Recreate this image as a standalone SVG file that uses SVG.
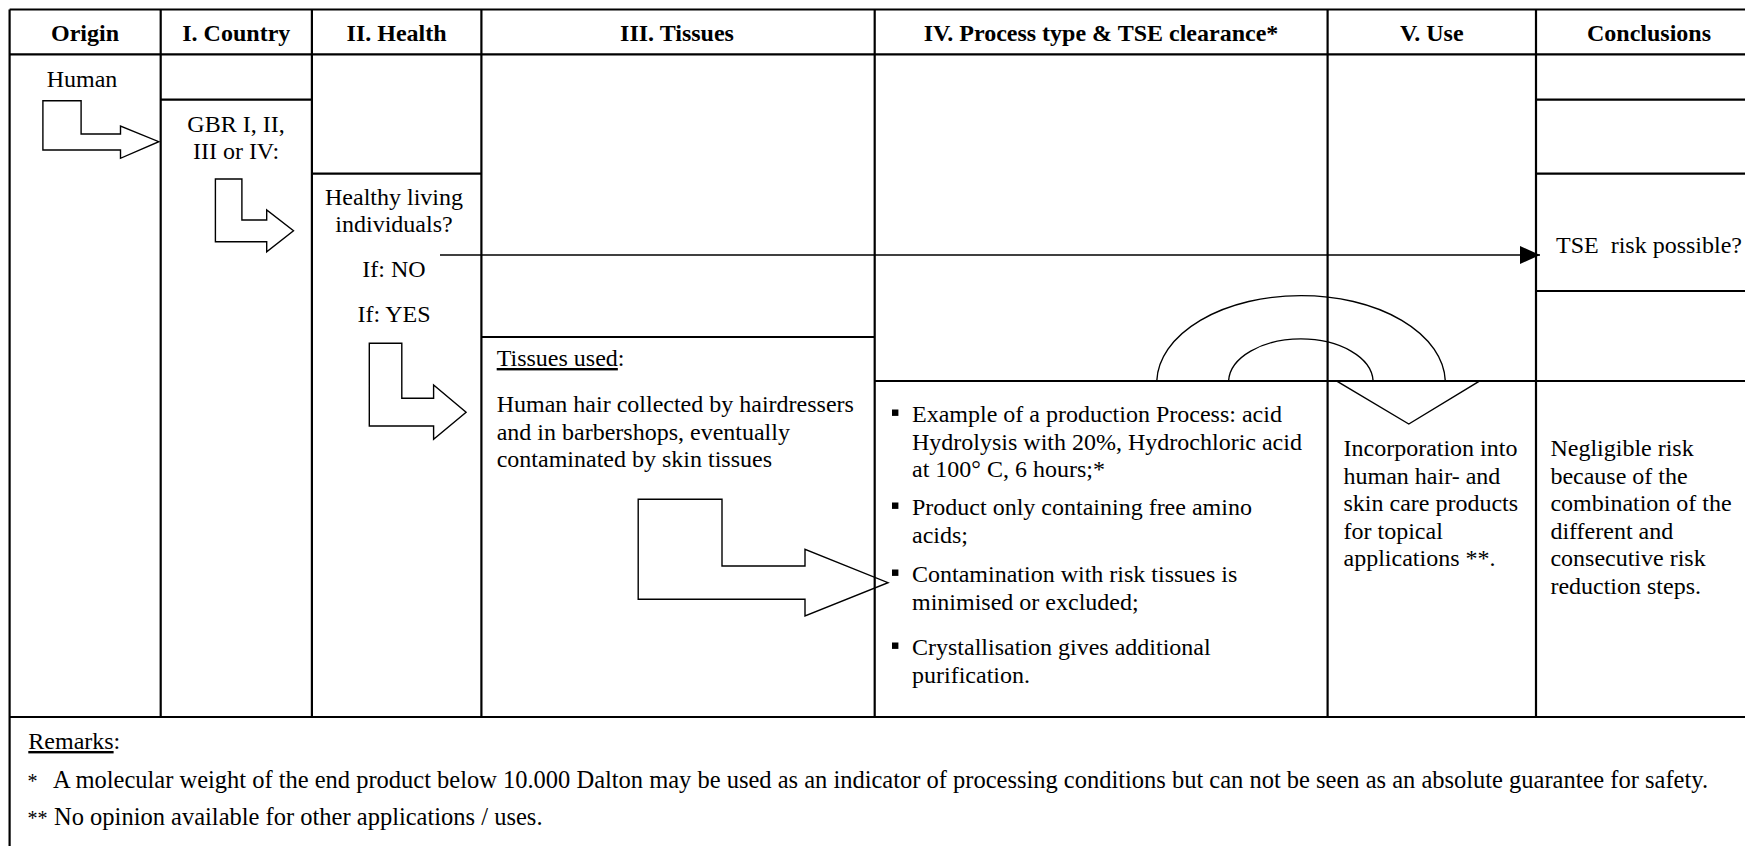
<svg xmlns="http://www.w3.org/2000/svg" width="1745" height="846" viewBox="0 0 1745 846">
<style>
text{font-family:"Liberation Serif","Times New Roman",serif;font-size:24px;fill:#000}
.h{font-weight:bold;text-anchor:middle}
.c{text-anchor:middle}
.ft{font-size:24.5px}
.ast{font-size:20px}
.grid line{stroke:#000;stroke-width:2.2}
.shape{fill:none;stroke:#000;stroke-width:1.4;stroke-linejoin:miter}
.conn{stroke:#000;stroke-width:1.6;fill:none}
</style>
<defs>
<marker id="arrowhead" viewBox="0 0 20 18" markerWidth="20" markerHeight="18" refX="20" refY="9" orient="auto" markerUnits="userSpaceOnUse">
<path d="M0,0 L20,9 L0,18 Z" fill="#000"/>
</marker>
</defs>
<rect x="0" y="0" width="1745" height="846" fill="#fff"/>
<g id="table" class="grid">
<line x1="9.6" y1="9.5" x2="9.6" y2="846"/>
<line x1="9.6" y1="9.5" x2="1745" y2="9.5"/>
<line x1="9.6" y1="54.3" x2="1745" y2="54.3"/>
<line x1="9.6" y1="717" x2="1745" y2="717"/>
<line x1="160.7" y1="9.5" x2="160.7" y2="717"/>
<line x1="311.9" y1="9.5" x2="311.9" y2="717"/>
<line x1="481.4" y1="9.5" x2="481.4" y2="717"/>
<line x1="874.7" y1="9.5" x2="874.7" y2="717"/>
<line x1="1327.6" y1="9.5" x2="1327.6" y2="717"/>
<line x1="1536" y1="9.5" x2="1536" y2="717"/>
<line x1="160.7" y1="99.7" x2="311.9" y2="99.7"/>
<line x1="311.9" y1="173.7" x2="481.4" y2="173.7"/>
<line x1="481.4" y1="337" x2="874.7" y2="337"/>
<line x1="874.7" y1="381" x2="1745" y2="381"/>
<line x1="1536" y1="99.7" x2="1745" y2="99.7"/>
<line x1="1536" y1="173.7" x2="1745" y2="173.7"/>
<line x1="1536" y1="291" x2="1745" y2="291"/>
</g>
<g id="headers">
<text class="h" x="85" y="41">Origin</text>
<text class="h" x="236.3" y="41">I. Country</text>
<text class="h" x="396.6" y="41">II. Health</text>
<text class="h" x="677" y="41">III. Tissues</text>
<text class="h" x="1101" y="41">IV. Process type &amp; TSE clearance*</text>
<text class="h" x="1431.8" y="41">V. Use</text>
<text class="h" x="1649" y="41">Conclusions</text>
</g>
<g id="node-origin">
<text class="c" x="82" y="86.5">Human</text>
</g>
<g id="node-country">
<text class="c" x="236" y="131.5">GBR I, II,</text>
<text class="c" x="236" y="159">III or IV:</text>
</g>
<g id="node-health">
<text class="c" x="394" y="204.5">Healthy living</text>
<text class="c" x="394" y="232">individuals?</text>
<text class="c" x="394" y="277">If: NO</text>
<text class="c" x="394" y="321.5">If: YES</text>
</g>
<g id="node-tissues">
<text x="496.7" y="366"><tspan text-decoration="underline">Tissues used</tspan>:</text>
<text x="496.7" y="412">Human hair collected by hairdressers</text>
<text x="496.7" y="439.7">and in barbershops, eventually</text>
<text x="496.7" y="467.4">contaminated by skin tissues</text>
</g>
<g id="node-process">
<rect x="892" y="409.5" width="6.4" height="6.4" fill="#000"/>
<text x="912" y="422">Example of a production Process: acid</text>
<text x="912" y="449.6">Hydrolysis with 20%, Hydrochloric acid</text>
<text x="912" y="477.2">at 100° C, 6 hours;*</text>
<rect x="892" y="502.5" width="6.4" height="6.4" fill="#000"/>
<text x="912" y="515">Product only containing free amino</text>
<text x="912" y="542.6">acids;</text>
<rect x="892" y="569.5" width="6.4" height="6.4" fill="#000"/>
<text x="912" y="582">Contamination with risk tissues is</text>
<text x="912" y="609.6">minimised or excluded;</text>
<rect x="892" y="642.5" width="6.4" height="6.4" fill="#000"/>
<text x="912" y="655">Crystallisation gives additional</text>
<text x="912" y="682.6">purification.</text>
</g>
<g id="node-use">
<text x="1343.5" y="456">Incorporation into</text>
<text x="1343.5" y="483.6">human hair- and</text>
<text x="1343.5" y="511.2">skin care products</text>
<text x="1343.5" y="538.8">for topical</text>
<text x="1343.5" y="566.4">applications **.</text>
</g>
<g id="node-conclusions">
<text x="1556" y="252.5" xml:space="preserve">TSE  risk possible?</text>
<text x="1550.4" y="456">Negligible risk</text>
<text x="1550.4" y="483.6">because of the</text>
<text x="1550.4" y="511.2">combination of the</text>
<text x="1550.4" y="538.8">different and</text>
<text x="1550.4" y="566.4">consecutive risk</text>
<text x="1550.4" y="594">reduction steps.</text>
</g>
<g id="node-remarks">
<text x="28.3" y="749"><tspan text-decoration="underline">Remarks</tspan>:</text>
<text class="ast" x="27.5" y="788">*</text>
<text class="ft" x="53" y="788" textLength="1655" lengthAdjust="spacing">A molecular weight of the end product below 10.000 Dalton may be used as an indicator of processing conditions but can not be seen as an absolute guarantee for safety.</text>
<text class="ast" x="27.5" y="825">**</text>
<text class="ft" x="54" y="825">No opinion available for other applications / uses.</text>
</g>
<g id="connectors">
<path class="shape" d="M42.9,100.7 H81.1 V134 H120.5 V126 L158.8,141.7 L120.5,158.3 V150 H42.9 Z"/>
<path class="shape" d="M215.4,179 H241.9 V220 H266.7 V210 L293.5,230.7 L266.7,251.7 V241.7 H215.4 Z"/>
<path class="shape" d="M369.3,343.3 H401.8 V398.3 H433.6 V385 L466.1,412.3 L433.6,439.3 V426 H369.3 Z"/>
<path class="shape" d="M638.2,499.3 H722 V566 H805 V549.3 L888,582.7 L805,616 V599.3 H638.2 Z"/>
<path class="shape" d="M1156.8,380.7 A144.3,87.4 0 0 1 1445.3,380.7 H1480.2 L1408.8,424 L1336,380.7 H1373.1 A72.3,43.4 0 0 0 1228.6,380.7 Z"/>
<line class="conn" x1="440" y1="255" x2="1540" y2="255" marker-end="url(#arrowhead)"/>
</g>
</svg>
